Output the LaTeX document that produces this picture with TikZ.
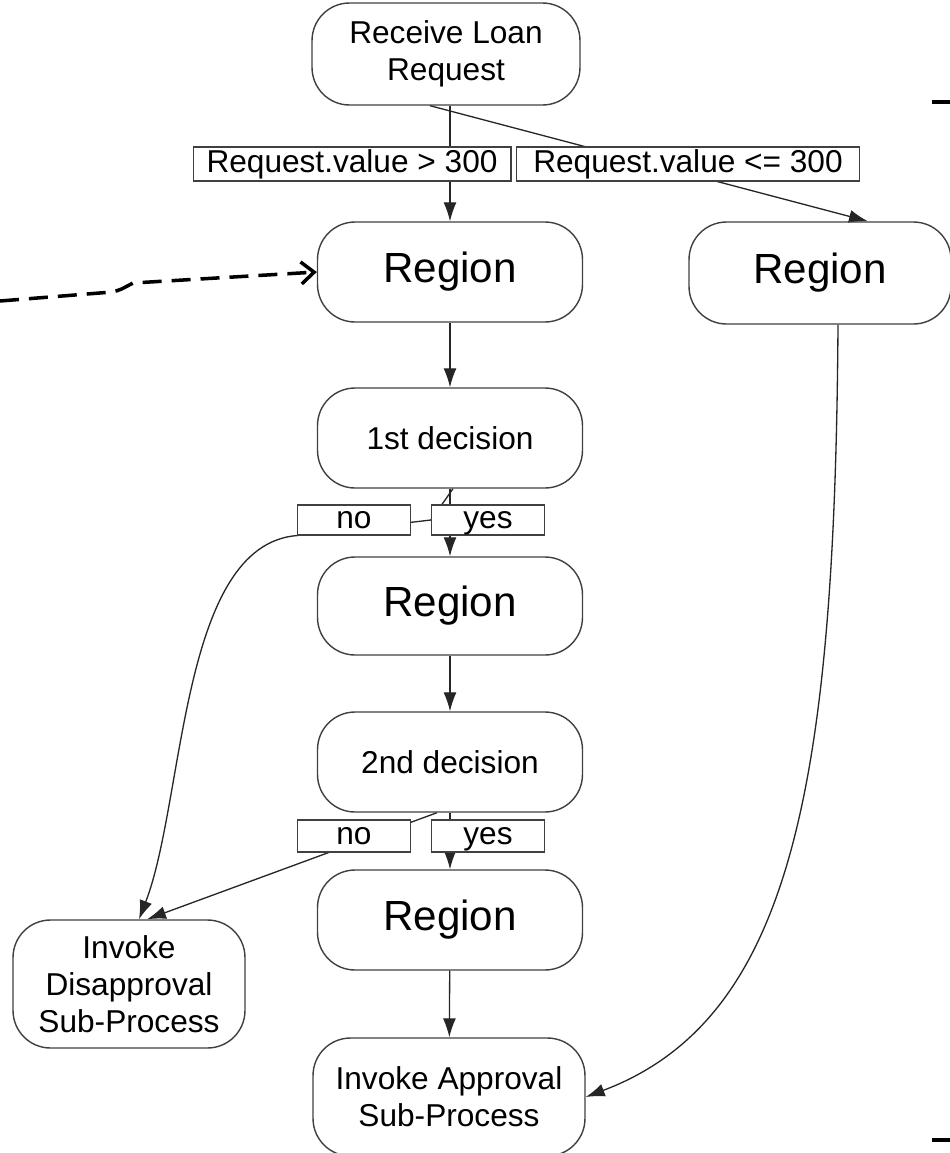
\documentclass[tikz,border=0pt]{standalone}
\usepackage{fontspec}
\setmainfont{Liberation Sans}
\usetikzlibrary{arrows.meta,backgrounds}

\begin{document}
\begin{tikzpicture}[x=0.02cm, y=-0.02cm,
    box/.style={draw=black!75, line width=0.8pt, rounded corners=0.75cm,
      minimum width=5.3cm, minimum height=2cm, align=center,
      font=\fontsize{18}{21}\selectfont},
    region/.style={box, font=\fontsize{24}{28}\selectfont},
    cond/.style={draw=black!75, line width=0.6pt, fill=white, inner sep=0pt,
      minimum height=0.68cm, text height=13pt, text depth=3.5pt,
      font=\fontsize{18}{20}\selectfont},
    flow/.style={draw=black!85, line width=0.75pt,
      -{Latex[length=0.38cm,width=0.26cm]}}]
        \useasboundingbox (0,0) rectangle (950,1153);
        % boxes
        \node[box, minimum width=5.36cm, minimum height=2.04cm] (recv) at (446,54) {Receive Loan\\Request};
        \node[region] (reg1) at (450,272) {Region};
        \node[region, minimum width=5.24cm, minimum height=2.04cm] (reg2) at (820,273) {Region};
        \node[box] (dec1) at (450,438) {1st decision};
        \node[region, minimum height=1.96cm] (reg3) at (450,606) {Region};
        \node[box] (dec2) at (450,762) {2nd decision};
        \node[region] (reg4) at (450,920) {Region};
        \node[box, minimum width=4.64cm, minimum height=2.56cm] (dis) at (129,984) {Invoke\\Disapproval\\Sub-Process};
        \node[box, minimum width=5.44cm, minimum height=2.36cm] (app) at (449,1097) {Invoke Approval\\Sub-Process};
        % conditions
        \node[cond, minimum width=6.36cm] (gt) at (352,164) {Request.value > 300};
        \node[cond, minimum width=6.86cm] (le) at (688,164) {Request.value <= 300};
        \node[cond, minimum width=2.26cm, minimum height=0.6cm] (no1) at (354,520) {no};
        \node[cond, minimum width=2.26cm, minimum height=0.6cm] (yes1) at (488,520) {yes};
        \node[cond, minimum width=2.26cm, minimum height=0.64cm] (no2) at (354,836) {no};
        \node[cond, minimum width=2.26cm, minimum height=0.64cm] (yes2) at (488,836) {yes};
        % connectors
        \begin{scope}[on background layer]
        \draw[flow] (reg1.north |- recv.south) -- (reg1.north);
        \draw[flow] ([shift={(-16,0)}]recv.south) -- ([shift={(48,0)}]reg2.north);
        \draw[flow] (reg1) -- (dec1);
        \draw[flow] (dec1) -- (reg3);
        \draw[flow] (reg3) -- (dec2);
        \draw[flow] (dec2) -- (reg4);
        \draw[flow] (reg4) -- (app);
        \draw[flow] ([shift={(3,0)}]dec1.south) -- (yes1.west) -- (no1.south west)
            .. controls (180,545) and (185,800) .. ([shift={(10,0)}]dis.north);
        \draw[flow] ([shift={(-13,0)}]dec2.south) -- ([shift={(18,0)}]dis.north);
        \draw[flow] ([shift={(18,0)}]reg2.south)
            .. controls (835,790) and (790,1020) .. (app.east);
        \end{scope}
        % incoming dashed link
        \coordinate (src) at (0,301);
        \draw[line width=2pt, dash pattern=on 0.38cm off 0.2cm,
            -{Straight Barb[length=0.26cm,width=0.44cm]}]
            (src) -- (112,292) .. controls (120,290) .. (133,283) -- (reg1.west);
        % cut-off marks at the right edge
        \draw[line width=2pt] (932,102) -- (950,102);
        \draw[line width=2pt] (932,1140) -- (950,1140);
    \end{tikzpicture}
\end{document}
